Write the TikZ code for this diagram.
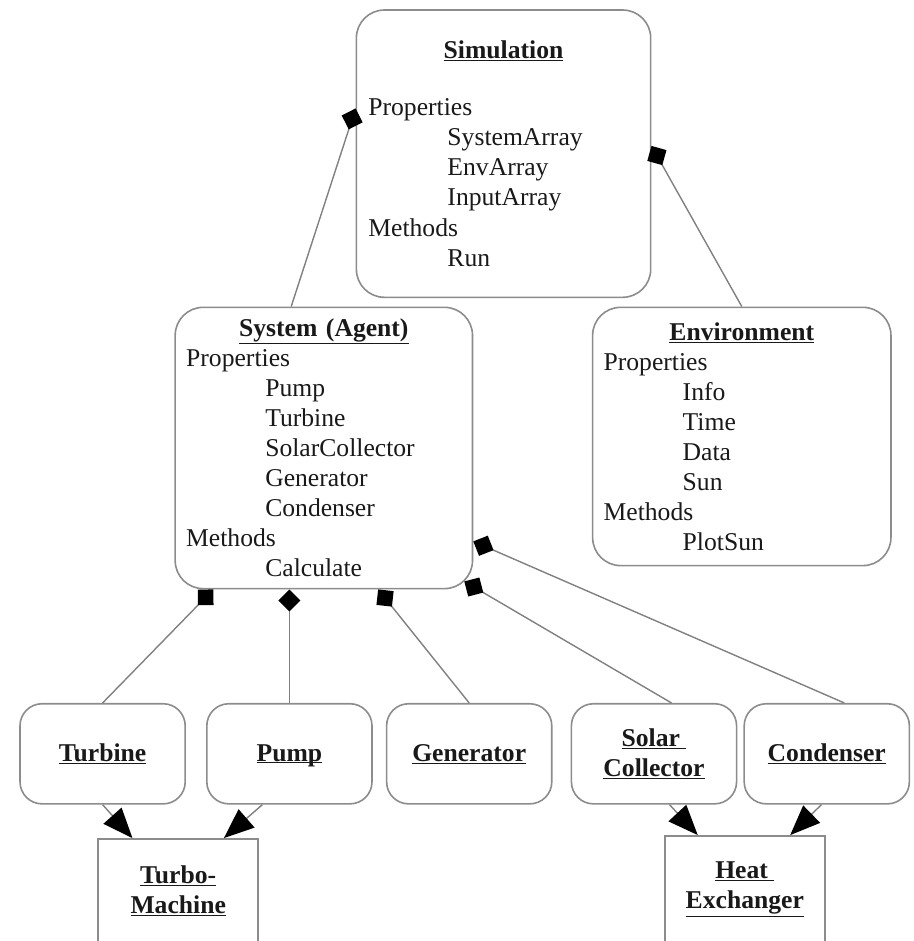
\documentclass[tikz,border=0pt]{standalone}
\usepackage{fontspec}
\setmainfont{Liberation Serif}
\usepackage{tikz}
\usetikzlibrary{positioning, arrows.meta, calc}
\newcommand{\clsname}[1]{\textbf{\underline{#1}}}
\newcommand{\member}{\hspace*{79pt}}
\tikzset{
    x=1pt, y=-1pt, % one unit is one pixel of the sketch, y runs down
    every node/.style={font=\fontsize{25.6}{30}\selectfont, text=black!90}, % Times-like text everywhere
    class/.style={draw=black!45, line width=1.6pt, rounded corners=28pt, inner sep=0pt, align=left}, % big class boxes
    part/.style={draw=black!45, line width=1.6pt, rounded corners=22pt, minimum width=165pt, minimum height=100pt, align=center}, % component boxes
    group/.style={draw=black!45, line width=1.6pt, minimum width=160pt, align=center}, % square parent boxes
    owns/.style={draw=black!50, line width=1.4pt, -{Diamond[length=22pt, width=22pt, color=black]}}, % composition
    kind/.style={draw=black!50, line width=1.4pt, -{Triangle[length=30pt, width=24pt, color=black]}}, % generalisation
}
\begin{document}
\begin{tikzpicture}
    \useasboundingbox (0,0) rectangle (913,940);
    \node[class, minimum width=294pt, minimum height=287pt, text width=270pt] (sim) at (503,153.5) {\makebox[\hsize]{\clsname{Simulation}}\\[27pt]
        Properties\\
        \member SystemArray\\
        \member EnvArray\\
        \member InputArray\\
        Methods\\
        \member Run};
    \node[class, minimum width=297pt, minimum height=281pt, text width=275pt] (agent) at (323.5,447.5) {\makebox[\hsize]{\clsname{System (Agent)}}\\
        Properties\\
        \member Pump\\
        \member Turbine\\
        \member SolarCollector\\
        \member Generator\\
        \member Condenser\\
        Methods\\
        \member Calculate};
    \node[class, minimum width=298pt, minimum height=258pt, text width=276pt] (env) at (741,436) {\makebox[\hsize]{\clsname{Environment}}\\
        Properties\\
        \member Info\\
        \member Time\\
        \member Data\\
        \member Sun\\
        Methods\\
        \member PlotSun};
    \node[part] (turbine) at (102.5,753) {\clsname{Turbine}};
    \node[part, right=20pt of turbine] (pump) {\clsname{\raisebox{0pt}[\height][0pt]{Pump}}};
    \node[part, right=13pt of pump] (generator) {\clsname{Generator}};
    \node[part, right=18pt of generator] (solar) {\clsname{Solar\ }\\\clsname{Collector}};
    \node[part, right=6pt of solar] (condenser) {\clsname{Condenser}};
    \node[group, minimum height=103.5pt] (turbo) at (178,889.75) {\clsname{Turbo-}\\\clsname{Machine}};
    \node[group, minimum height=106.5pt] (heat) at (744,888.25) {\clsname{Heat\ }\\\clsname{Exchanger}};
    \coordinate (agentcorner) at ($(agent.south east)+(-9,-8)$);
    \draw (agent.103) edge[owns] (sim.163)
          (env.north) edge[owns] (sim.3)
          (turbine.north) edge[owns] (agent.232)
          (pump.north) edge[owns] (pump.north |- agent.south)
          (generator.north) edge[owns] (agent.291)
          (solar.71) edge[owns] (agentcorner)
          (condenser.71) edge[owns] (agent.328);
    \draw (turbine.south) edge[kind] (turbo.131)
          (pump.242) edge[kind] (turbo.49)
          (solar.287) edge[kind] (heat.131)
          (condenser.264) edge[kind] (heat.50);
\end{tikzpicture}
\end{document}
